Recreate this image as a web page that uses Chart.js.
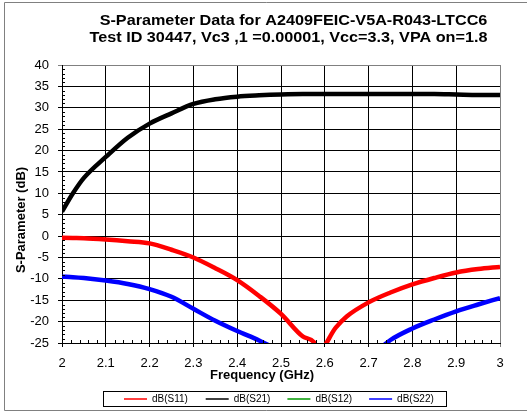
<!DOCTYPE html>
<html>
<head>
<meta charset="utf-8">
<script src="https://cdn.jsdelivr.net/npm/chart.js@4"></script>
<style>
    html, body { margin: 0; padding: 0; background: #fff; }
    #wrap { width: 527px; height: 412px; }
</style>
</head>
<body>
<div id="wrap"><canvas id="spChart" width="527" height="412"></canvas></div>
<script>
// frequency points (GHz)
const freq = [2.0, 2.025, 2.05, 2.1, 2.15, 2.2, 2.25, 2.3, 2.35, 2.4, 2.45, 2.5, 2.55, 2.575, 2.585, 2.625, 2.65, 2.7, 2.75, 2.8, 2.85, 2.9, 2.95, 3.0];

// (dB)
const s11 = [-0.4, -0.45, -0.5, -0.8, -1.2, -1.7, -3.2, -5.0, -7.5, -10.3, -14.0, -18.2, -23.5, -24.8, -27.0, -21.4, -18.8, -15.5, -13.2, -11.3, -9.8, -8.5, -7.7, -7.2];
const s21 = [5.7, 10.0, 13.6, 18.5, 23.0, 26.3, 28.7, 30.9, 32.0, 32.6, 32.9, 33.1, 33.2, 33.2, 33.2, 33.2, 33.2, 33.2, 33.2, 33.2, 33.2, 33.1, 33.0, 33.0];
const s12 = [-47.8, -47.5, -47.1, -46.9, -46.2, -45.8, -45.1, -44.9, -44.3, -43.8, -43.6, -43.1, -42.7, -42.4, -42.4, -42.0, -41.7, -41.3, -40.9, -40.6, -40.1, -39.8, -39.4, -39.0];
const s22 = [-9.5, -9.6, -9.8, -10.4, -11.2, -12.4, -14.2, -17.0, -19.8, -22.2, -24.4, -27.0, -29.5, -30.5, -31.0, -31.5, -31.0, -28.5, -24.3, -21.6, -19.5, -17.6, -16.0, -14.5];

const seriesNames = ['dB(S11)', 'dB(S21)', 'dB(S12)', 'dB(S22)'];
const seriesColors = ['#ff0000', '#000000', '#009900', '#0000ff'];

const xTicks = [2, 2.1, 2.2, 2.3, 2.4, 2.5, 2.6, 2.7, 2.8, 2.9, 3];
const yTicks = [-25, -20, -15, -10, -5, 0, 5, 10, 15, 20, 25, 30, 35, 40];

const titleLines = [
    'S-Parameter Data for A2409FEIC-V5A-R043-LTCC6',
    'Test ID 30447, Vc3 ,1 =0.00001, Vcc=3.3, VPA on=1.8'
];

const FONT = "'Liberation Sans', Arial, sans-serif";

function toPoints(values) {
    return freq.map((f, i) => ({ x: f, y: values[i] }));
}

// frame, titles, minor ticks and the boxed legend
const decorations = {
    id: 'decorations',
    beforeDraw(chart) {
        const ctx = chart.ctx;
        ctx.save();
        ctx.fillStyle = '#fff';
        ctx.fillRect(0, 0, chart.width, chart.height);
        ctx.strokeStyle = '#808080';
        ctx.lineWidth = 1;
        ctx.beginPath();
        ctx.moveTo(chart.width + 2, 2.5);
        ctx.lineTo(4.5, 2.5);
        ctx.lineTo(4.5, 410.5);
        ctx.lineTo(chart.width + 2, 410.5);
        ctx.stroke();
        ctx.restore();
    },
    afterDraw(chart) {
        const ctx = chart.ctx;
        const area = chart.chartArea;
        const xs = chart.scales.x;
        const ys = chart.scales.y;
        ctx.save();

        // minor ticks
        ctx.strokeStyle = '#000';
        ctx.lineWidth = 1;
        ctx.beginPath();
        for (let v = -25; v <= 40; v++) {
            if (v % 5 === 0) continue;
            const py = Math.round(ys.getPixelForValue(v)) + 0.5;
            ctx.moveTo(area.left, py);
            ctx.lineTo(area.left + 3, py);
        }
        for (let k = 0; k <= 50; k++) {
            if (k % 5 === 0) continue;
            const px = Math.round(xs.getPixelForValue(2 + k * 0.02)) + 0.5;
            ctx.moveTo(px, area.bottom);
            ctx.lineTo(px, area.bottom - 3);
        }
        ctx.stroke();

        // chart title (slightly wide, like the original)
        ctx.fillStyle = '#000';
        ctx.textAlign = 'center';
        ctx.textBaseline = 'alphabetic';
        ctx.font = 'bold 15px ' + FONT;
        [[titleLines[0], 293.5, 24.5], [titleLines[1], 288.5, 41.5]].forEach(([t, cx, by]) => {
            ctx.save();
            ctx.translate(cx, by);
            ctx.scale(1.08, 1);
            ctx.fillText(t, 0, 0);
            ctx.restore();
        });

        // axis titles
        ctx.font = 'bold 13px ' + FONT;
        ctx.textBaseline = 'middle';
        ctx.fillText('Frequency (GHz)', 262, 375);
        ctx.save();
        ctx.translate(21, 220);
        ctx.rotate(-Math.PI / 2);
        ctx.fillText('S-Parameter (dB)', 0, 0);
        ctx.restore();

        // legend box
        ctx.strokeStyle = '#000';
        ctx.strokeRect(103.5, 391.5, 343, 15);
        ctx.font = '10px ' + FONT;
        ctx.textAlign = 'left';
        chart.data.datasets.forEach((ds, i) => {
            const x0 = 124 + i * 81.7;
            ctx.strokeStyle = ds.borderColor;
            ctx.lineWidth = 1.5;
            ctx.beginPath();
            ctx.moveTo(x0, 399);
            ctx.lineTo(x0 + 23, 399);
            ctx.stroke();
            ctx.fillStyle = '#000';
            ctx.fillText(ds.label, x0 + 28, 399.5);
        });
        ctx.restore();
    }
};

const ctx = document.getElementById('spChart').getContext('2d');

new Chart(ctx, {
    type: 'line',
    data: {
        datasets: [s11, s21, s12, s22].map((vals, i) => ({
            label: seriesNames[i],
            data: toPoints(vals),
            borderColor: seriesColors[i],
            backgroundColor: seriesColors[i],
            borderWidth: 4.5,
            pointRadius: 0,
            cubicInterpolationMode: 'monotone',
            clip: 0
        }))
    },
    options: {
        responsive: false,
        animation: false,
        layout: { padding: { top: 65, right: 27, left: 0, bottom: 0 } },
        plugins: {
            legend: { display: false },
            title: { display: false },
            tooltip: { enabled: false }
        },
        scales: {
            x: {
                type: 'linear',
                min: 2,
                max: 3,
                afterBuildTicks: (scale) => { scale.ticks = xTicks.map(v => ({ value: v })); },
                afterFit: (scale) => { scale.height = 69; },
                ticks: {
                    autoSkip: false,
                    maxRotation: 0,
                    padding: 9,
                    color: '#000',
                    font: { family: FONT, size: 13 },
                    callback: (v) => String(+v.toFixed(1))
                },
                grid: {
                    color: (c) => (c.tick && c.tick.value === 3) ? '#808080' : '#000',
                    lineWidth: 1,
                    tickLength: 4
                },
                border: { color: '#000', width: 1 }
            },
            y: {
                min: -25,
                max: 40,
                afterBuildTicks: (scale) => { scale.ticks = yTicks.map(v => ({ value: v })); },
                afterFit: (scale) => { scale.width = 62; },
                ticks: {
                    autoSkip: false,
                    padding: 9,
                    color: '#000',
                    font: { family: FONT, size: 13 }
                },
                grid: {
                    color: (c) => (c.tick && c.tick.value === 40) ? '#808080' : '#000',
                    lineWidth: 1,
                    tickLength: 4
                },
                border: { color: '#000', width: 1 }
            }
        }
    },
    plugins: [decorations]
});
</script>
</body>
</html>
